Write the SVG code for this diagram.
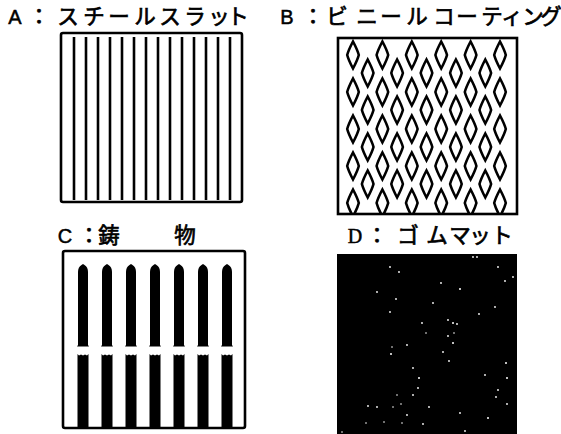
<svg xmlns="http://www.w3.org/2000/svg" xmlns:xlink="http://www.w3.org/1999/xlink" width="561" height="434" viewBox="0 0 561 434">
<style>
.lbl{font-family:"Noto Sans CJK JP","Liberation Sans",sans-serif;font-size:21.5px;fill:#000;stroke:#000;stroke-width:0.7;text-anchor:middle}
.lat{font-family:"Liberation Sans","Noto Sans CJK JP",sans-serif;font-size:20px;fill:#000;stroke:#000;stroke-width:0.5;text-anchor:middle}
.box{fill:none;stroke:#000;stroke-width:2.6}
.slat{stroke:#000;stroke-width:2.6;fill:none}
.dia{fill:none;stroke:#000;stroke-width:2.6}
.dot{fill:#fff}
</style>
<defs>
<path id="d" class="dia" d="M0,-13.5 Q4.5,-5 5.8,0 Q4.5,5 0,13.5 Q-4.5,5 -5.8,0 Q-4.5,-5 0,-13.5Z"/>
<path id="tb" d="M-5,0 L-5,-73 Q-5,-78 -1.5,-80 L0,-81 L1.5,-80 Q5,-78 5,-73 L5,0 L6,1.5 L-6,1.5Z"/>
<path id="lb" d="M-5.5,0 L-5.5,-75 L-4,-73.5 L-2,-74.5 L0,-73.5 L2,-74.5 L4,-73.5 L5.5,-75 L5.5,0Z"/>
<clipPath id="cb"><rect x="339" y="39" width="177" height="174"/></clipPath>
</defs>

<g id="panelA">
<text class="lat" x="15" y="24">A</text>
<text class="lbl" x="39 68 94 119 145 170 195 219 238" y="24">：スチールスラット</text>
<rect class="box" x="61" y="33" width="181" height="169" rx="2"/>
<g class="slat">
<line x1="74" y1="37" x2="74" y2="200"/><line x1="86" y1="37" x2="86" y2="200"/>
<line x1="98" y1="37" x2="98" y2="200"/><line x1="110" y1="37" x2="110" y2="200"/>
<line x1="122" y1="37" x2="122" y2="200"/><line x1="134" y1="37" x2="134" y2="200"/>
<line x1="146" y1="37" x2="146" y2="200"/><line x1="158" y1="37" x2="158" y2="200"/>
<line x1="170" y1="37" x2="170" y2="200"/><line x1="182" y1="37" x2="182" y2="200"/>
<line x1="194" y1="37" x2="194" y2="200"/><line x1="206" y1="37" x2="206" y2="200"/>
<line x1="218" y1="37" x2="218" y2="200"/><line x1="230" y1="37" x2="230" y2="200"/>
</g>
</g>

<g id="panelB">
<text class="lat" x="287" y="24">B</text>
<text class="lbl" x="313 337 367 391 417 444 467 492 512 533 551" y="24">：ビニールコーティング</text>
<rect class="box" x="338" y="38" width="179" height="176"/>
<g clip-path="url(#cb)">
<g transform="translate(353,0)"><use xlink:href="#d" y="55"/><use xlink:href="#d" y="92"/><use xlink:href="#d" y="129"/><use xlink:href="#d" y="166"/><use xlink:href="#d" y="203"/></g>
<g transform="translate(367.7,0)"><use xlink:href="#d" y="73"/><use xlink:href="#d" y="110"/><use xlink:href="#d" y="147"/><use xlink:href="#d" y="184"/></g>
<g transform="translate(382.4,0)"><use xlink:href="#d" y="55"/><use xlink:href="#d" y="92"/><use xlink:href="#d" y="129"/><use xlink:href="#d" y="166"/><use xlink:href="#d" y="203"/></g>
<g transform="translate(397.1,0)"><use xlink:href="#d" y="73"/><use xlink:href="#d" y="110"/><use xlink:href="#d" y="147"/><use xlink:href="#d" y="184"/></g>
<g transform="translate(411.8,0)"><use xlink:href="#d" y="55"/><use xlink:href="#d" y="92"/><use xlink:href="#d" y="129"/><use xlink:href="#d" y="166"/><use xlink:href="#d" y="203"/></g>
<g transform="translate(426.5,0)"><use xlink:href="#d" y="73"/><use xlink:href="#d" y="110"/><use xlink:href="#d" y="147"/><use xlink:href="#d" y="184"/></g>
<g transform="translate(441.2,0)"><use xlink:href="#d" y="55"/><use xlink:href="#d" y="92"/><use xlink:href="#d" y="129"/><use xlink:href="#d" y="166"/><use xlink:href="#d" y="203"/></g>
<g transform="translate(455.9,0)"><use xlink:href="#d" y="73"/><use xlink:href="#d" y="110"/><use xlink:href="#d" y="147"/><use xlink:href="#d" y="184"/></g>
<g transform="translate(470.6,0)"><use xlink:href="#d" y="55"/><use xlink:href="#d" y="92"/><use xlink:href="#d" y="129"/><use xlink:href="#d" y="166"/><use xlink:href="#d" y="203"/></g>
<g transform="translate(485.3,0)"><use xlink:href="#d" y="73"/><use xlink:href="#d" y="110"/><use xlink:href="#d" y="147"/><use xlink:href="#d" y="184"/></g>
<g transform="translate(500,0)"><use xlink:href="#d" y="55"/><use xlink:href="#d" y="92"/><use xlink:href="#d" y="129"/><use xlink:href="#d" y="166"/><use xlink:href="#d" y="203"/></g>
</g>
</g>

<g id="panelC">
<text class="lat" x="65" y="243">C</text>
<text class="lbl" x="89 109 185" y="243">：鋳物</text>
<rect class="box" x="63" y="251" width="182" height="177" rx="2"/>
<g fill="#000">
<use xlink:href="#tb" x="83" y="345"/><use xlink:href="#tb" x="107" y="345"/><use xlink:href="#tb" x="131" y="345"/>
<use xlink:href="#tb" x="155" y="345"/><use xlink:href="#tb" x="179" y="345"/><use xlink:href="#tb" x="203" y="345"/>
<use xlink:href="#tb" x="227" y="345"/>
<use xlink:href="#lb" x="83" y="429"/><use xlink:href="#lb" x="107" y="429"/><use xlink:href="#lb" x="131" y="429"/>
<use xlink:href="#lb" x="155" y="429"/><use xlink:href="#lb" x="179" y="429"/><use xlink:href="#lb" x="203" y="429"/>
<use xlink:href="#lb" x="227" y="429"/>
</g>
</g>

<g id="panelD">
<text class="lat" x="355" y="243" style="font-family:'Liberation Serif',serif">D</text>
<text class="lbl" x="377 408 437 460 480 502" y="243">：ゴムマット</text>
<rect x="337" y="254" width="180" height="180" fill="#000"/>
<g class="dot">
<circle cx="473" cy="257" r="0.9"/><circle cx="477" cy="257" r="0.9"/><circle cx="390" cy="267" r="0.9"/>
<circle cx="399" cy="272" r="0.9"/><circle cx="498" cy="267" r="0.9"/><circle cx="505" cy="281" r="0.9"/>
<circle cx="513" cy="277" r="0.9"/><circle cx="441" cy="283" r="0.9"/><circle cx="460" cy="289" r="1"/>
<circle cx="377" cy="292" r="0.9"/><circle cx="396" cy="299" r="0.9"/><circle cx="433" cy="303" r="0.9"/>
<circle cx="495" cy="307" r="0.9"/><circle cx="390" cy="312" r="0.9"/><circle cx="479" cy="314" r="0.9"/>
<circle cx="448" cy="320" r="0.9"/><circle cx="453" cy="323" r="1"/><circle cx="457" cy="324" r="0.9"/>
<circle cx="422" cy="323" r="0.9"/><circle cx="426" cy="333" r="0.8"/><circle cx="454" cy="333" r="0.8"/>
<circle cx="448" cy="336" r="0.9"/><circle cx="453" cy="343" r="1"/><circle cx="407" cy="345" r="0.9"/>
<circle cx="392" cy="347" r="0.8"/><circle cx="391" cy="354" r="1"/><circle cx="443" cy="352" r="0.9"/>
<circle cx="449" cy="361" r="0.9"/><circle cx="506" cy="363" r="1"/><circle cx="413" cy="368" r="0.9"/>
<circle cx="485" cy="375" r="0.9"/><circle cx="419" cy="378" r="1"/><circle cx="507" cy="378" r="1"/>
<circle cx="418" cy="388" r="0.9"/><circle cx="498" cy="390" r="0.9"/><circle cx="413" cy="395" r="0.9"/>
<circle cx="397" cy="395" r="0.8"/><circle cx="496" cy="397" r="0.9"/><circle cx="507" cy="404" r="0.9"/>
<circle cx="368" cy="406" r="0.9"/><circle cx="377" cy="407" r="0.9"/><circle cx="393" cy="407" r="0.8"/>
<circle cx="401" cy="404" r="0.8"/><circle cx="429" cy="407" r="0.9"/><circle cx="407" cy="415" r="0.9"/>
<circle cx="460" cy="413" r="0.9"/><circle cx="488" cy="418" r="1"/><circle cx="366" cy="423" r="0.8"/>
<circle cx="384" cy="422" r="0.8"/><circle cx="402" cy="423" r="0.8"/><circle cx="423" cy="424" r="0.9"/>
<circle cx="465" cy="431" r="0.9"/><circle cx="342" cy="432" r="0.8"/>
</g>
</g>
</svg>
